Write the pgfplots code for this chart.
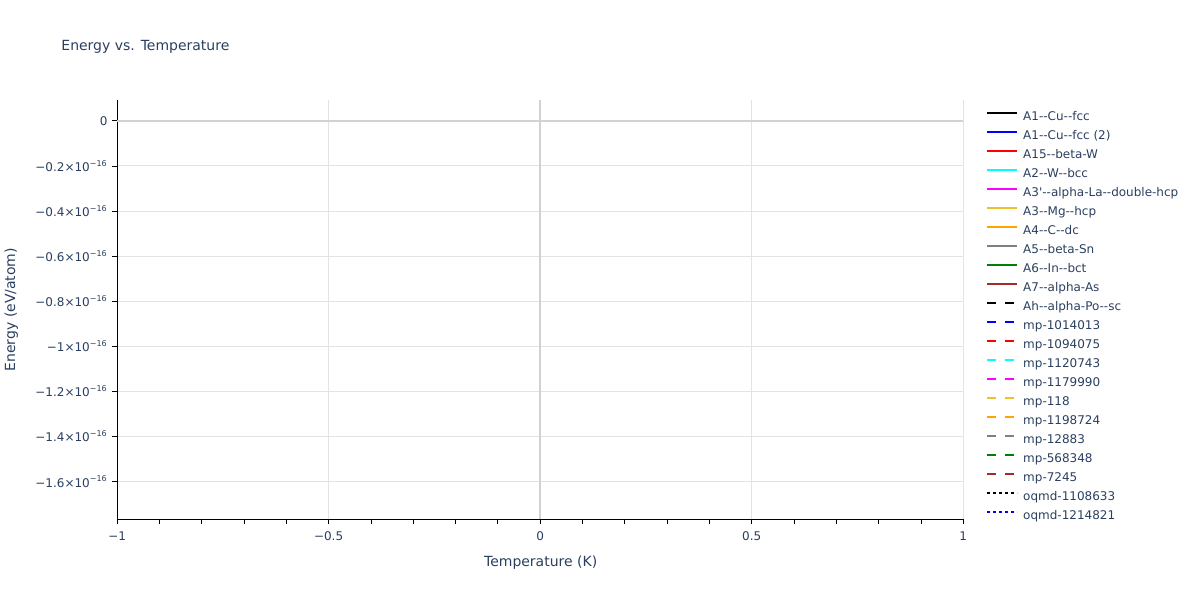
\documentclass[border=0pt]{standalone}
\usepackage{fontspec}
\setmainfont{DejaVu Sans}
\usepackage{pgfplots}
\pgfplotsset{compat=1.18}
\definecolor{txt}{HTML}{2A3F5F}
\definecolor{gridc}{HTML}{E3E3E3}
\definecolor{zeroc}{HTML}{D2D2D2}
\definecolor{pblack}{HTML}{000000}
\definecolor{pblue}{HTML}{0000FF}
\definecolor{pred}{HTML}{FF0000}
\definecolor{pcyan}{HTML}{00FFFF}
\definecolor{pmagenta}{HTML}{FF00FF}
\definecolor{pgold}{HTML}{EBC12F}
\definecolor{porange}{HTML}{FFA500}
\definecolor{pgray}{HTML}{808080}
\definecolor{pgreen}{HTML}{008000}
\definecolor{pbrown}{HTML}{A52A2A}
\tikzset{
  dsh/.style={dash pattern=on 6.75pt off 6.75pt},
  dtt/.style={dash pattern=on 2.25pt off 2.25pt},
}
\begin{document}
\begin{tikzpicture}
\path (0,0) rectangle (900pt,450pt);
\node[anchor=west, inner sep=0pt, text=txt, font=\fontsize{10.5pt}{12pt}\selectfont] at (45pt,415pt) {Energy vs. Temperature};
\node[rotate=90, text=txt, font=\fontsize{10.5pt}{12pt}\selectfont] at (7.5pt,217.5pt) {Energy (eV/atom)};
\node[text=txt, font=\fontsize{10.5pt}{12pt}\selectfont] at (405pt,27.5pt) {Temperature (K)};
\begin{axis}[
    at={(87pt,60pt)}, anchor=south west,
    scale only axis,
    width=635.25pt, height=315pt,
    xmin=-1, xmax=1,
    ymin=-1.768, ymax=0.093,
    axis x line=bottom, axis y line=left,
    axis line style={-, black, line width=0.75pt},
    xtick={-1,-0.5,0,0.5,1},
    xticklabels={−1,−0.5,0,0.5,1},
    minor x tick num=4,
    ytick={-1.6,-1.4,-1.2,-1,-0.8,-0.6,-0.4,-0.2,0},
    yticklabels={
      −1.6×10\textsuperscript{−16},
      −1.4×10\textsuperscript{−16},
      −1.2×10\textsuperscript{−16},
      −1×10\textsuperscript{−16},
      −0.8×10\textsuperscript{−16},
      −0.6×10\textsuperscript{−16},
      −0.4×10\textsuperscript{−16},
      −0.2×10\textsuperscript{−16},
      0},
    tick align=outside,
    major tick length=3.75pt, minor tick length=3.75pt,
    tick style={black, line width=0.6pt},
    ticklabel style={text=txt, font=\fontsize{9pt}{10pt}\selectfont},
    /pgf/number format/assume math mode=true,
    xticklabel style={yshift=-2pt},
    yticklabel style={xshift=0pt},
    grid=major,
    major grid style={gridc, line width=0.75pt},
    extra x ticks={0}, extra x tick labels={},
    extra y ticks={0}, extra y tick labels={},
    extra tick style={major tick length=0pt, major grid style={zeroc, line width=1.5pt}},
    legend cell align=left,
    legend image code/.code={\draw[#1, line width=1.5pt] (0pt,3pt) -- (22.5pt,3pt);},
    legend style={
      at={(1.0272,0.9733)}, anchor=north west,
      draw=none, fill=none, inner sep=0pt, outer sep=0pt,
      row sep=5.25pt, column sep=3.75pt,
      font=\fontsize{9pt}{10pt}\selectfont, text=txt,
      nodes={inner sep=0pt, text height=7pt, text depth=2pt},
    },
]
\addplot[pblack] coordinates {(0,0)};
\addlegendentry{A1-{}-Cu-{}-fcc}
\addplot[pblue] coordinates {(0,0)};
\addlegendentry{A1-{}-Cu-{}-fcc (2)}
\addplot[pred] coordinates {(0,0)};
\addlegendentry{A15-{}-beta-W}
\addplot[pcyan] coordinates {(0,0)};
\addlegendentry{A2-{}-W-{}-bcc}
\addplot[pmagenta] coordinates {(0,0)};
\addlegendentry{A3\textquotesingle-{}-alpha-La-{}-double-hcp}
\addplot[pgold] coordinates {(0,0)};
\addlegendentry{A3-{}-Mg-{}-hcp}
\addplot[porange] coordinates {(0,0)};
\addlegendentry{A4-{}-C-{}-dc}
\addplot[pgray] coordinates {(0,0)};
\addlegendentry{A5-{}-beta-Sn}
\addplot[pgreen] coordinates {(0,0)};
\addlegendentry{A6-{}-In-{}-bct}
\addplot[pbrown] coordinates {(0,0)};
\addlegendentry{A7-{}-alpha-As}
\addplot[pblack, dsh] coordinates {(0,0)};
\addlegendentry{Ah-{}-alpha-Po-{}-sc}
\addplot[pblue, dsh] coordinates {(0,0)};
\addlegendentry{mp-1014013}
\addplot[pred, dsh] coordinates {(0,0)};
\addlegendentry{mp-1094075}
\addplot[pcyan, dsh] coordinates {(0,0)};
\addlegendentry{mp-1120743}
\addplot[pmagenta, dsh] coordinates {(0,0)};
\addlegendentry{mp-1179990}
\addplot[pgold, dsh] coordinates {(0,0)};
\addlegendentry{mp-118}
\addplot[porange, dsh] coordinates {(0,0)};
\addlegendentry{mp-1198724}
\addplot[pgray, dsh] coordinates {(0,0)};
\addlegendentry{mp-12883}
\addplot[pgreen, dsh] coordinates {(0,0)};
\addlegendentry{mp-568348}
\addplot[pbrown, dsh] coordinates {(0,0)};
\addlegendentry{mp-7245}
\addplot[pblack, dtt] coordinates {(0,0)};
\addlegendentry{oqmd-1108633}
\addplot[pblue, dtt] coordinates {(0,0)};
\addlegendentry{oqmd-1214821}
\end{axis}
\end{tikzpicture}
\end{document}
